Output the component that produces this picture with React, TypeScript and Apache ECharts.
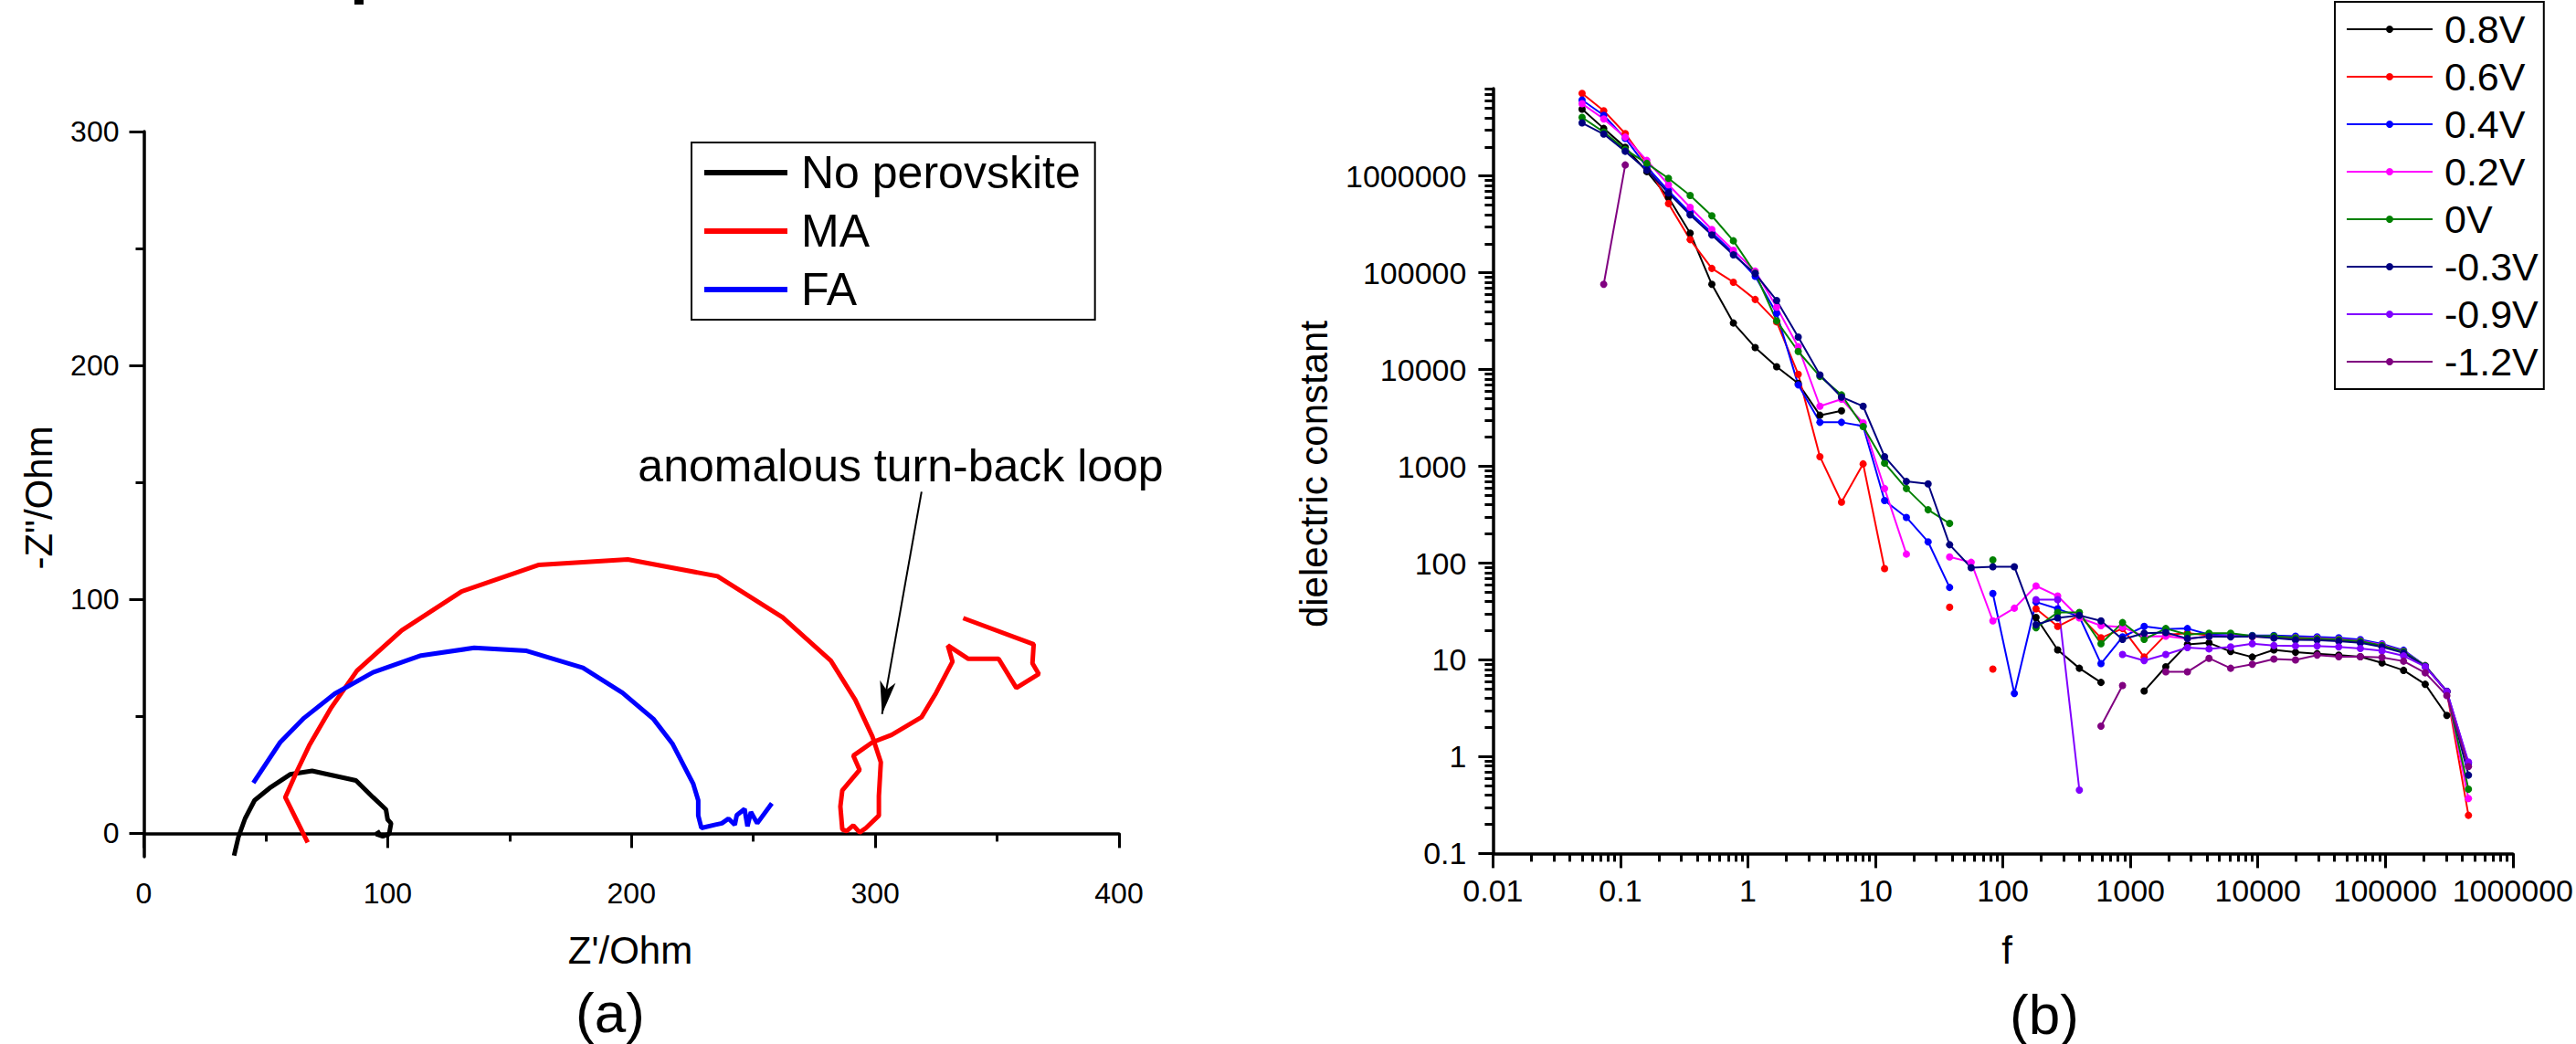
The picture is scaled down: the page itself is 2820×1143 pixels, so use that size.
import React, { useEffect, useRef } from "react";
import * as echarts from "echarts";

const FONT = '"Liberation Sans", Arial, Helvetica, sans-serif';

// ---------- Panel (a): Nyquist plot ----------
const NYQ_NAMES = ["No perovskite", "MA", "FA"];
const NYQ_COLORS = ["#000000", "#FF0000", "#0000FF"];
const NYQ_NOPEROV: [number, number][] = [
  [37, -9.5], [38.8, -1.5], [41.5, 6.3], [45.4, 14.1], [51.5, 19.3], [60, 25.2], [69, 26.7],
  [87, 22.6], [94, 15.4], [99.3, 10.2], [100, 5.9], [101.4, 4.3], [100.6, -0.3], [98, -1.3],
  [95.3, -0.3], [97, 0.8],
];
const NYQ_MA: [number, number][] = [
  [67.2, -3.9], [58, 15.4], [62.5, 25.9], [67.8, 37.5], [76.9, 53.8], [87.4, 69.5], [105.8, 86.8],
  [130.3, 103.4], [161.8, 114.7], [198.5, 117.1], [235.3, 109.9], [262, 92.3], [281.8, 73.8],
  [291.8, 57.1], [298.8, 41.5], [302.3, 30.4], [301.5, 16], [301.5, 7.6], [296.2, 2.3], [293.6, 0.4],
  [291, 3.4], [288.3, 1], [286.5, 1.7], [285.7, 11.5], [286.5, 18.4], [293.6, 27.1], [291, 33.2],
  [298.8, 38.9], [306.7, 42.1], [319, 49.7], [325, 60.1], [331.7, 73.4], [329.8, 80.3], [338.2, 74.6],
  [350.6, 74.6], [357.9, 62.2], [367.1, 68.1], [364.5, 72.7], [365, 80.8], [336.1, 92],
];
const NYQ_FA: [number, number][] = [
  [44.9, 21.6], [55.9, 38.9], [65.7, 49.3], [78.3, 59.7], [94, 68.8], [113.7, 76], [135.5, 79.3],
  [157, 78], [180.1, 70.8], [196.4, 60], [209, 48.9], [216.9, 38.2], [225.3, 21.3], [227.4, 14.1],
  [227.4, 7.6], [228.7, 2.3], [234.5, 3.7], [237.1, 4.3], [239.8, 6.3], [242.4, 3.7], [243.2, 7.8],
  [246.4, 10.4], [247.6, 3], [249, 9.1], [251.6, 4.3], [257.6, 12.8],
];
const NYQ_X_MIN = 0, NYQ_X_MAX = 400, NYQ_X_STEP = 100;
const NYQ_Y_MIN = -10, NYQ_Y_MAX = 300;
const NYQ_Y_LABELS = [0, 100, 200, 300];
const NYQ_Y_MINOR = [50, 150, 250];
const ARROW_FROM: [number, number] = [319, 146];
const ARROW_TO: [number, number] = [302.8, 51];

// ---------- Panel (b): dielectric constant vs f ----------
const FREQ = [
  0.05, 0.0739, 0.109, 0.161, 0.238, 0.352, 0.521, 0.769, 1.14, 1.68, 2.48, 3.67, 5.42, 8.01,
  11.8, 17.5, 25.9, 38.2, 56.4, 83.4, 123, 182, 269, 398, 588, 868, 1283, 1896, 2802, 4141,
  6119, 9042, 13361, 19744, 29176, 43113, 63709, 94142, 139114, 205569, 303769, 448878,
];
const DIEL_NAMES = ["0.8V", "0.6V", "0.4V", "0.2V", "0V", "-0.3V", "-0.9V", "-1.2V"];
const DIEL_COLORS = ["#000000", "#FF0000", "#0000FF", "#FF00FF", "#008000", "#000080", "#8000FF", "#800080"];
const EPS_P08 = [
  4.9e6, 3.1e6, 1.98e6, 1.11e6, 5.99e5, 2.57e5, 7.6e4, 3.03e4, 1.69e4, 1.07e4, 7.2e3, 3.37e3, 3.75e3,
  null, null, null, null, null, null, null, null,
  27.5, 12.7, 8.2, 5.85, null, 4.77, 8.5, 14.5, 15.0, 12.2, 10.7, 12.7, 12.0, 11.6, 11.2, 10.8, 9.3,
  7.8, 5.6, 2.67, null,
];
const EPS_P06 = [
  7.14e6, 4.73e6, 2.74e6, 1.35e6, 5.19e5, 2.2e5, 1.11e5, 8.0e4, 5.3e4, 3.11e4, 8.95e3, 1.26e3, 427,
  1.06e3, 87.9, null, null, 35.0, null, 8.05, null, 33.7, 22.2, 28.8, 16.9, 21.1, 10.7, 18.2, 18.9,
  18.0, 17.6, 17.4, 17.2, 16.6, 16.3, 15.9, 15.3, 13.9, 12.0, 8.7, 4.7, 0.248,
];
const EPS_P04 = [
  6.1e6, 4.24e6, 2.45e6, 1.24e6, 7.03e5, 4.17e5, 2.6e5, 1.6e5, 9.2e4, 3.82e4, 6.95e3, 2.85e3, 2.85e3,
  2.61e3, 443, 297, 166, 56.1, null, 48.5, 4.5, 39.6, 33.7, 28.0, 9.15, 17.3, 22.2, 20.8, 21.1, 18.3,
  18.0, 17.9, 17.9, 17.6, 17.3, 16.9, 16.2, 14.6, 12.6, 8.7, 4.75, 0.85,
];
const EPS_P02 = [
  5.58e6, 3.89e6, 2.52e6, 1.45e6, 8.12e5, 4.75e5, 2.8e5, 1.71e5, 1.04e5, 4.41e4, 1.72e4, 4.18e3,
  4.94e3, 2.81e3, 590, 124, null, 116, 102, 25.3, 34.2, 58.1, 45.7, 27.2, 22.6, 21.8, 17.5, 17.6,
  16.6, 17.5, 17.6, 17.5, 17.4, 17.0, 16.8, 16.4, 15.8, 14.3, 12.3, 8.7, 4.7, 0.37,
];
const EPS_0 = [
  4.03e6, 2.85e6, 1.88e6, 1.35e6, 9.46e5, 6.3e5, 3.88e5, 2.14e5, 9.93e4, 3.18e4, 1.54e4, 8.5e3,
  5.47e3, 2.58e3, 1.08e3, 590, 356, 257, null, 108, null, 21.5, 30.9, 30.9, 14.7, 24.3, 16.3, 21.1,
  18.3, 18.9, 18.9, 17.7, 17.6, 16.9, 16.6, 16.2, 15.6, 14.1, 12.2, 8.7, 4.7, 0.462,
];
const EPS_M03 = [
  3.54e6, 2.71e6, 1.8e6, 1.15e6, 6.68e5, 3.96e5, 2.46e5, 1.53e5, 9.8e4, 5.18e4, 2.17e4, 8.8e3, 5.2e3,
  4.18e3, 1.26e3, 698, 659, 155, 89.8, 91.8, 91.8, 23.1, 27.2, 28.8, 25.3, 16.3, 18.9, 19.2, 16.6,
  17.5, 17.3, 17.5, 16.8, 16.1, 16.0, 15.6, 15.0, 13.6, 11.8, 8.6, 4.7, 0.645,
];
const EPS_M09 = [
  null, null, null, null, null, null, null, null, null, null, null, null, null, null, null, null,
  null, null, null, null, null,
  42, 42, 0.452, null, 11.4, 9.85, 11.4, 13.4, 13.0, 13.6, 14.7, 14.1, 13.9, 13.9, 13.6, 13.1, 12.4,
  11.0, 8.5, 4.7, 0.88,
];
const EPS_M12 = [
  null, 7.6e4, 1.3e6,
  null, null, null, null, null, null, null, null, null, null, null, null, null, null, null, null,
  null, null, null, null, null,
  2.07, 5.43, null, 7.53, 7.53, 10.4, 8.2, 9.0, 10.2, 10.0, 11.2, 10.8, 10.8, 10.6, 9.7, 7.36, 4.28,
  0.79,
];
const DIEL_VALUES = [EPS_P08, EPS_P06, EPS_P04, EPS_P02, EPS_0, EPS_M03, EPS_M09, EPS_M12];
const F_MIN = 0.01, F_MAX = 1e6;
const EPS_MIN = 0.1, EPS_MAX = 8e6;
const F_DECADES = [0.01, 0.1, 1, 10, 100, 1000, 10000, 100000, 1000000];
const EPS_DECADES = [0.1, 1, 10, 100, 1000, 10000, 100000, 1000000];
const MINOR_MULTS = [2, 3, 4, 5, 6, 7, 8, 9];

const minorOf = (decades: number[]) =>
  decades.flatMap((d) => MINOR_MULTS.map((m) => Number((m * d).toPrecision(6))));

const logLabel = (v: number) => (v >= 1 ? String(Math.round(v)) : String(Number(v.toPrecision(3))));

const AXIS_LINE = { lineStyle: { color: "#000", width: 3.5 } };
const MAJOR_TICK = (len: number) => ({ show: true, length: len, lineStyle: { color: "#000", width: 3 } });
const LABEL = (size: number, margin: number) => ({
  color: "#000",
  fontSize: size,
  fontFamily: FONT,
  margin,
});

export default function App() {
  const ref = useRef<HTMLDivElement>(null);

  useEffect(() => {
    const chart = echarts.init(ref.current!, null, { renderer: "svg" });

    const nyqSeries = [NYQ_NOPEROV, NYQ_MA, NYQ_FA].map((d, i) => ({
      name: NYQ_NAMES[i],
      type: "line",
      xAxisIndex: 0,
      yAxisIndex: 0,
      data: d,
      symbol: "none",
      smooth: false,
      color: NYQ_COLORS[i],
      lineStyle: { color: NYQ_COLORS[i], width: 5 },
      z: 3,
      ...(i === 1
        ? {
            markLine: {
              silent: true,
              symbol: ["none", "arrow"],
              symbolSize: [13, 36],
              label: { show: false },
              lineStyle: { color: "#000", width: 2, type: "solid" },
              emphasis: { disabled: true },
              data: [[{ coord: ARROW_FROM }, { coord: ARROW_TO }]],
            },
          }
        : {}),
    }));

    const dielSeries = DIEL_VALUES.map((vals, i) => ({
      name: DIEL_NAMES[i],
      type: "line",
      xAxisIndex: 1,
      yAxisIndex: 2,
      data: FREQ.map((f, k) => [f, vals[k] == null ? "-" : vals[k]]),
      symbol: "circle",
      symbolSize: 8,
      showSymbol: true,
      connectNulls: false,
      color: DIEL_COLORS[i],
      itemStyle: { color: DIEL_COLORS[i] },
      lineStyle: { color: DIEL_COLORS[i], width: 2 },
      z: 3,
    }));

    const option: any = {
      animation: false,
      backgroundColor: "#fff",
      textStyle: { fontFamily: FONT },
      grid: [
        { left: 157.5, top: 144, width: 1067.5, height: 794 },
        { left: 1634.4, top: 97, width: 1117.6, height: 837.4 },
      ],
      xAxis: [
        {
          gridIndex: 0,
          type: "value",
          min: NYQ_X_MIN,
          max: NYQ_X_MAX,
          interval: NYQ_X_STEP,
          position: "bottom",
          axisLine: AXIS_LINE,
          axisTick: MAJOR_TICK(16),
          minorTick: { show: true, splitNumber: 2, length: 9, lineStyle: { color: "#000", width: 3 } },
          axisLabel: LABEL(32, 24),
          splitLine: { show: false },
          minorSplitLine: { show: false },
        },
        {
          gridIndex: 1,
          type: "log",
          logBase: 10,
          min: F_MIN,
          max: F_MAX,
          position: "bottom",
          axisLine: AXIS_LINE,
          axisTick: { ...MAJOR_TICK(16), customValues: F_DECADES },
          axisLabel: { ...LABEL(34, 24), customValues: F_DECADES, formatter: logLabel },
          splitLine: { show: false },
        },
        {
          gridIndex: 1,
          type: "log",
          logBase: 10,
          min: F_MIN,
          max: F_MAX,
          position: "bottom",
          axisLine: { show: false },
          axisTick: { ...MAJOR_TICK(9), customValues: minorOf(F_DECADES.slice(0, -1)) },
          axisLabel: { show: false },
          splitLine: { show: false },
        },
      ],
      yAxis: [
        {
          gridIndex: 0,
          type: "value",
          min: NYQ_Y_MIN,
          max: NYQ_Y_MAX,
          position: "left",
          axisLine: AXIS_LINE,
          axisTick: { ...MAJOR_TICK(16), customValues: NYQ_Y_LABELS },
          axisLabel: { ...LABEL(32, 27), customValues: NYQ_Y_LABELS },
          splitLine: { show: false },
        },
        {
          gridIndex: 0,
          type: "value",
          min: NYQ_Y_MIN,
          max: NYQ_Y_MAX,
          position: "left",
          axisLine: { show: false },
          axisTick: { ...MAJOR_TICK(9), customValues: NYQ_Y_MINOR },
          axisLabel: { show: false },
          splitLine: { show: false },
        },
        {
          gridIndex: 1,
          type: "log",
          logBase: 10,
          min: EPS_MIN,
          max: EPS_MAX,
          position: "left",
          axisLine: AXIS_LINE,
          axisTick: { ...MAJOR_TICK(16), customValues: EPS_DECADES },
          axisLabel: { ...LABEL(34, 29), customValues: EPS_DECADES, formatter: logLabel },
          splitLine: { show: false },
        },
        {
          gridIndex: 1,
          type: "log",
          logBase: 10,
          min: EPS_MIN,
          max: EPS_MAX,
          position: "left",
          axisLine: { show: false },
          axisTick: { ...MAJOR_TICK(9), customValues: minorOf(EPS_DECADES) },
          axisLabel: { show: false },
          splitLine: { show: false },
        },
      ],
      legend: [
        {
          data: NYQ_NAMES.map((n) => ({ name: n, icon: "rect" })),
          orient: "vertical",
          left: 757,
          top: 156,
          padding: [7, 16, 7, 14],
          itemGap: 12,
          itemWidth: 91,
          itemHeight: 6,
          borderColor: "#000",
          borderWidth: 2,
          borderRadius: 0,
          selectedMode: false,
          textStyle: { fontSize: 50, color: "#000", fontFamily: FONT, lineHeight: 52, padding: [0, 0, 0, 10] },
        },
        {
          data: DIEL_NAMES,
          orient: "vertical",
          left: 2556,
          top: 2,
          padding: [8, 6, 8, 12],
          itemGap: 8,
          itemWidth: 94,
          itemHeight: 10,
          borderColor: "#000",
          borderWidth: 2,
          borderRadius: 0,
          selectedMode: false,
          textStyle: { fontSize: 43, color: "#000", fontFamily: FONT, lineHeight: 44, padding: [0, 0, 0, 8] },
        },
      ],
      graphic: [
        { type: "rect", shape: { x: 388, y: 0, width: 10, height: 5 }, style: { fill: "#000" } },
        {
          type: "text",
          x: 42,
          y: 545,
          rotation: Math.PI / 2,
          style: { text: '-Z"/Ohm', fontSize: 42, fontFamily: FONT, fill: "#000", textAlign: "center", textVerticalAlign: "middle" },
        },
        {
          type: "text",
          x: 690,
          y: 1040,
          style: { text: "Z'/Ohm", fontSize: 42, fontFamily: FONT, fill: "#000", textAlign: "center", textVerticalAlign: "middle" },
        },
        {
          type: "text",
          x: 668,
          y: 1108,
          style: { text: "(a)", fontSize: 62, fontFamily: FONT, fill: "#000", textAlign: "center", textVerticalAlign: "middle" },
        },
        {
          type: "text",
          x: 986,
          y: 510,
          style: { text: "anomalous turn-back loop", fontSize: 50, fontFamily: FONT, fill: "#000", textAlign: "center", textVerticalAlign: "middle" },
        },
        {
          type: "text",
          x: 1438,
          y: 519,
          rotation: Math.PI / 2,
          style: { text: "dielectric constant", fontSize: 42, fontFamily: FONT, fill: "#000", textAlign: "center", textVerticalAlign: "middle" },
        },
        {
          type: "text",
          x: 2197,
          y: 1040,
          style: { text: "f", fontSize: 42, fontFamily: FONT, fill: "#000", textAlign: "center", textVerticalAlign: "middle" },
        },
        {
          type: "text",
          x: 2238,
          y: 1110,
          style: { text: "(b)", fontSize: 62, fontFamily: FONT, fill: "#000", textAlign: "center", textVerticalAlign: "middle" },
        },
      ],
      series: [...nyqSeries, ...dielSeries],
    };

    chart.setOption(option);
    return () => chart.dispose();
  }, []);

  return (
    <div
      ref={ref}
      style={{ position: "fixed", left: 0, top: 0, width: 2820, height: 1143, background: "#fff" }}
    />
  );
}
